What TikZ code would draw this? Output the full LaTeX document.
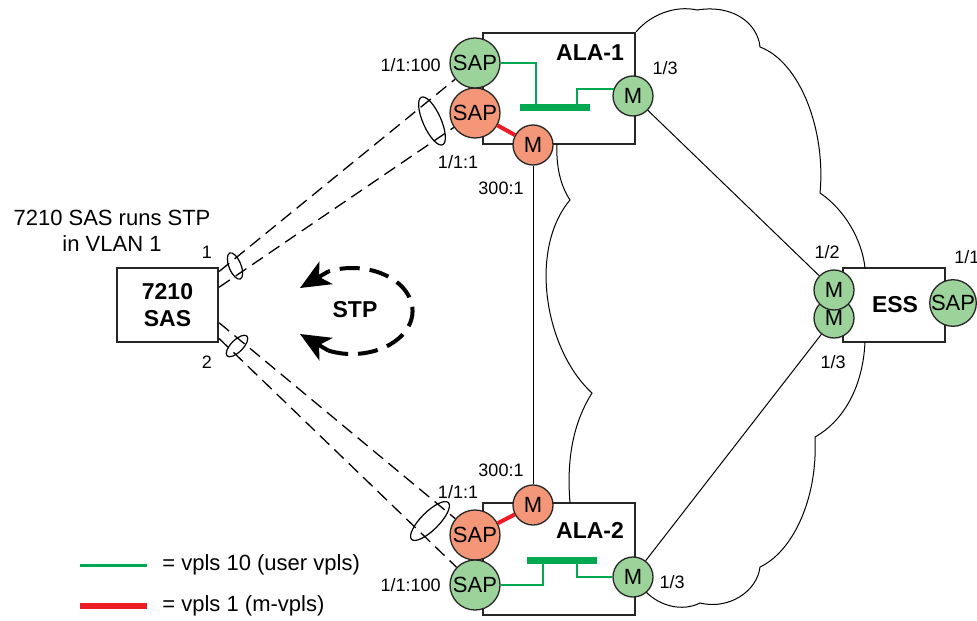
\documentclass[tikz,border=0pt]{standalone}
\usepackage{fontspec}
\setmainfont{Liberation Sans}
\usetikzlibrary{arrows.meta}
\definecolor{sapgreen}{RGB}{155,211,155}
\definecolor{sapred}{RGB}{244,150,120}
\definecolor{vplsgreen}{RGB}{0,168,80}
\definecolor{vplsred}{RGB}{237,28,36}

\begin{document}
\begin{tikzpicture}[x=0.5pt,y=-0.5pt,>=Stealth,font=\fontsize{11}{13}\selectfont,
  box/.style={draw=black!85,line width=1.1pt,fill=white,inner sep=0pt},
  bt/.style={font=\fontsize{11.5}{13.5}\selectfont\bfseries},
  sap/.style={circle,draw=black!85,line width=0.65pt,minimum size=25pt,inner sep=0pt},
  mp/.style={circle,draw=black!85,line width=0.65pt,minimum size=20pt,inner sep=0pt},
  lbl/.style={font=\fontsize{9}{11}\selectfont,inner sep=1pt},
  ln/.style={line width=0.5pt},
  cl/.style={line width=0.5pt},
  vg/.style={vplsgreen,line width=1.3pt},
  vr/.style={vplsred,line width=2pt},
  bar/.style={vplsgreen,line width=3.5pt},
  lag/.style={dash pattern=on 6.5pt off 3.5pt,line width=0.65pt},
  ring/.style={line width=0.6pt},
  stp/.style={line width=2pt,dash pattern=on 10pt off 5pt},
  stphead/.style={line width=2pt,-{Stealth[length=15pt,width=13pt,inset=4pt]}}]
\useasboundingbox (0,0) rectangle (977,620);

% boxes
\node[box,minimum width=76pt,minimum height=55.5pt] (ala1) at (559,88.5) {};
\node[box,minimum width=76pt,minimum height=56pt] (ala2) at (559,559) {};
\node[box,minimum width=51pt,minimum height=37pt] (ess) at (894,305) {};
\node[box,bt,minimum width=50.5pt,minimum height=37pt,align=center] (sas) at (167.5,305) {7210\\SAS};
\node[bt] (ala1t) at (590,53) {ALA-1};
\node[bt] (ala2t) at (590,530) {ALA-2};
\node[bt] (esst) at (895,305) {ESS};

% cloud
\draw[cl] (ala1.north east) .. controls (650,15) and (675,5) .. (697,10)
  .. controls (735,4) and (758,25) .. (760,47)
  .. controls (800,62) and (826,130) .. (820,193)
  .. controls (845,210) and (862,240) .. (865,268);
\draw[cl] (865,342) .. controls (863,385) and (845,420) .. (815,437)
  .. controls (818,500) and (792,552) .. (760,567)
  .. controls (757,592) and (728,610) .. (700,603)
  .. controls (682,612) and (660,606) .. (646,592);
\draw[cl] (570,503) .. controls (566,455) and (575,420) .. (592,393)
  .. controls (545,350) and (528,250) .. (570,200)
  .. controls (560,185) and (556,165) .. (557,144);

% ports
\node[sap,fill=sapred] (s1r) at (475,113) {SAP};
\node[sap,fill=sapgreen] (s1g) at (475,63) {SAP};
\node[mp,fill=sapred] (m1r) at (533,145) {M};
\node[mp,fill=sapgreen] (m1g) at (633,96) {M};
\node[sap,fill=sapred] (s2r) at (475,535) {SAP};
\node[sap,fill=sapgreen] (s2g) at (475,585) {SAP};
\node[mp,fill=sapred] (m2r) at (533,505) {M};
\node[mp,fill=sapgreen] (m2g) at (633,577) {M};
\node[mp,fill=sapgreen] (em2) at (834,318) {M};
\node[mp,fill=sapgreen] (em1) at (834,290) {M};
\node[sap,fill=sapgreen,minimum size=23pt] (es) at (953,303) {SAP};

% links
\draw[ln] (m1r) -- (m2r);
\draw[ln] (m1g) -- (em1);
\draw[ln] (m2g) -- (em2);
\draw[vr] (s1r) -- (m1r);
\draw[vr] (s2r) -- (m2r);

% vpls 10
\coordinate (b1a) at (520,108);
\coordinate (b1b) at (590,108);
\coordinate (j1) at (536,108);
\coordinate (j2) at (577,108);
\draw[bar] (b1a) -- (b1b);
\draw[vg] (s1g.east) -| (j1);
\draw[vg] (m1g.160) -| (j2);
\coordinate (b2a) at (527,560);
\coordinate (b2b) at (597,560);
\coordinate (j3) at (543,560);
\coordinate (j4) at (577,560);
\draw[bar] (b2a) -- (b2b);
\draw[vg] (s2g.east) -| (j3);
\draw[vg] (m2g.west) -| (j4);

% lag to the 7210
\draw[lag] (sas.33) -- (s1g);
\draw[lag] (sas.19.6) -- (s1r);
\draw[lag] (sas.-19.6) -- (s2r);
\draw[lag] (sas.-33) -- (s2g);
\draw[ring] (235,266) circle [x radius=6,y radius=14,rotate=22];
\draw[ring] (432,121) circle [x radius=9,y radius=26,rotate=24];
\draw[ring] (237,346) circle [x radius=6,y radius=14,rotate=-45];
\draw[ring] (430,521) circle [x radius=9,y radius=26,rotate=-45];

% STP
\coordinate (stpb1) at (328.4,350.6);
\coordinate (stpt1) at (300,334);
\coordinate (stpb2) at (328.4,271.4);
\coordinate (stpt2) at (300,288);
\draw[stp] (stpb1) arc [start angle=113,end angle=-113,x radius=60.5,y radius=43];
\draw[stphead] (stpb1) -- (stpt1);
\draw[stphead] (stpb2) -- (stpt2);
\node[bt] (stpt) at (355,310) {STP};

% labels
\node[align=center] (note) at (112,231) {7210 SAS runs STP\\in VLAN 1};
\node[lbl] (l1) at (207,252) {1};
\node[lbl] (l2) at (207,362) {2};
\node[lbl,anchor=east] (la) at (443,65) {1/1:100};
\node[lbl] (lb) at (458,162) {1/1:1};
\node[lbl] (lc) at (501,188) {300:1};
\node[lbl] (ld) at (665,68) {1/3};
\node[lbl] (le) at (501,470) {300:1};
\node[lbl] (lf) at (458,492) {1/1:1};
\node[lbl,anchor=east] (lg) at (443,585) {1/1:100};
\node[lbl] (lh) at (672,582) {1/3};
\node[lbl] (li) at (827,252) {1/2};
\node[lbl] (lj) at (833,362) {1/3};
\node[lbl,anchor=west] (lk) at (952,257) {1/1};

% legend
\coordinate (lga) at (80,565);
\coordinate (lgb) at (147,565);
\coordinate (lra) at (80,606);
\coordinate (lrb) at (147,606);
\draw[vg,line width=1.5pt] (lga) -- (lgb);
\draw[vr,line width=2.6pt] (lra) -- (lrb);
\node[anchor=west,inner sep=0pt] (lgt) at (162,565) {= vpls 10 (user vpls)};
\node[anchor=west,inner sep=0pt] (lrt) at (162,606) {= vpls 1 (m-vpls)};
\end{tikzpicture}
\end{document}
